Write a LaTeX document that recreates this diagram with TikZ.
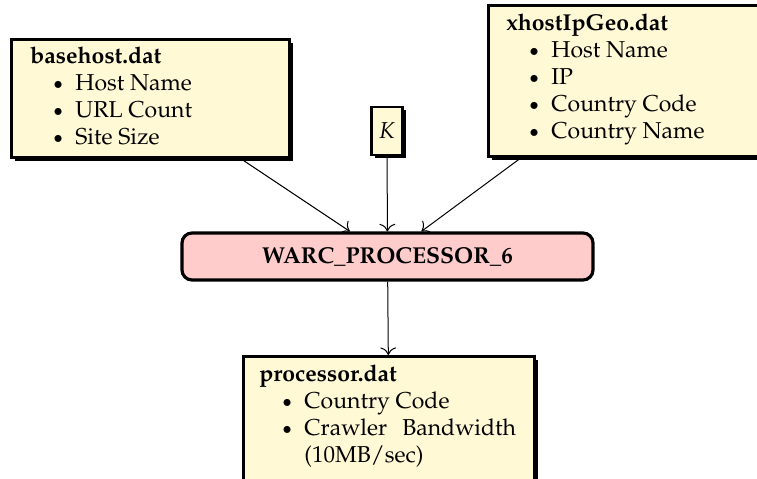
\documentclass[tikz,border=0pt]{standalone}
\usepackage[T1]{fontenc}
\usepackage{mathpazo}
\usetikzlibrary{shadows,arrows.meta}
\definecolor{notefill}{RGB}{255,249,214}
\definecolor{procfill}{RGB}{255,204,204}
\tikzset{
  databox/.style={draw=black, line width=1.4pt, fill=notefill, inner sep=0pt,
    drop shadow={shadow xshift=1.6pt, shadow yshift=-1.6pt, opacity=1, fill=black}},
  procbox/.style={draw=black, line width=1.6pt, fill=procfill, rounded corners=5pt,
    inner sep=0pt, font=\fontsize{11.5}{14}\selectfont\bfseries},
  listtext/.style={anchor=base west, inner sep=0pt, font=\fontsize{11.5}{13.5}\selectfont},
  flow/.style={-{To[scale=1.4]}, line width=0.5pt}
}
\newcommand{\itm}{\raisebox{0.3pt}{$\scriptstyle\bullet$} &}
\begin{document}
\begin{tikzpicture}[x=0.5pt, y=-0.5pt]
\clip (0,0) rectangle (757,478);

% input data files
\node[databox, minimum width=139pt, minimum height=59pt, anchor=north west] (base) at (10,38) {};
\node[listtext] (basetext) at (30,63) {%
  \begin{tabular}[t]{@{\hspace{11.5pt}}p{11pt}@{}l@{}}
  \multicolumn{2}{@{}l}{\bfseries basehost.dat}\\
  \itm Host Name\\
  \itm URL Count\\
  \itm Site Size
  \end{tabular}};

\node[databox, minimum width=136.5pt, minimum height=75.5pt, anchor=north west] (geo) at (487,4) {};
\node[listtext] (geotext) at (506,30) {%
  \begin{tabular}[t]{@{\hspace{11.5pt}}p{11pt}@{}l@{}}
  \multicolumn{2}{@{}l}{\bfseries xhostIpGeo.dat}\\
  \itm Host Name\\
  \itm IP\\
  \itm Country Code\\
  \itm Country Name
  \end{tabular}};

\node[databox, minimum width=15.5pt, minimum height=24pt, font=\fontsize{11.5}{13.5}\selectfont] (k) at (387,131) {$K$};

% processing step
\node[procbox, minimum width=205.5pt, minimum height=23.5pt] (warc) at (387.5,256.5) {WARC\_PROCESSOR\_6};

% output data file
\node[databox, minimum width=145.5pt, minimum height=70pt, anchor=north west] (proc) at (242,355) {};
\node[listtext] (proctext) at (259,381) {%
  \begin{tabular}[t]{@{\hspace{11.5pt}}p{11pt}@{}l@{}}
  \multicolumn{2}{@{}l}{\bfseries processor.dat}\\
  \itm Country Code\\
  \itm Crawler\hspace{7.5pt}Bandwidth\\
  & (10MB/sec)
  \end{tabular}};

% connectors
\draw[flow] (base) -- (warc);
\draw[flow] (k) -- (warc);
\draw[flow] (geo) -- (warc);
\draw[flow] (warc) -- (proc);
\end{tikzpicture}
\end{document}
